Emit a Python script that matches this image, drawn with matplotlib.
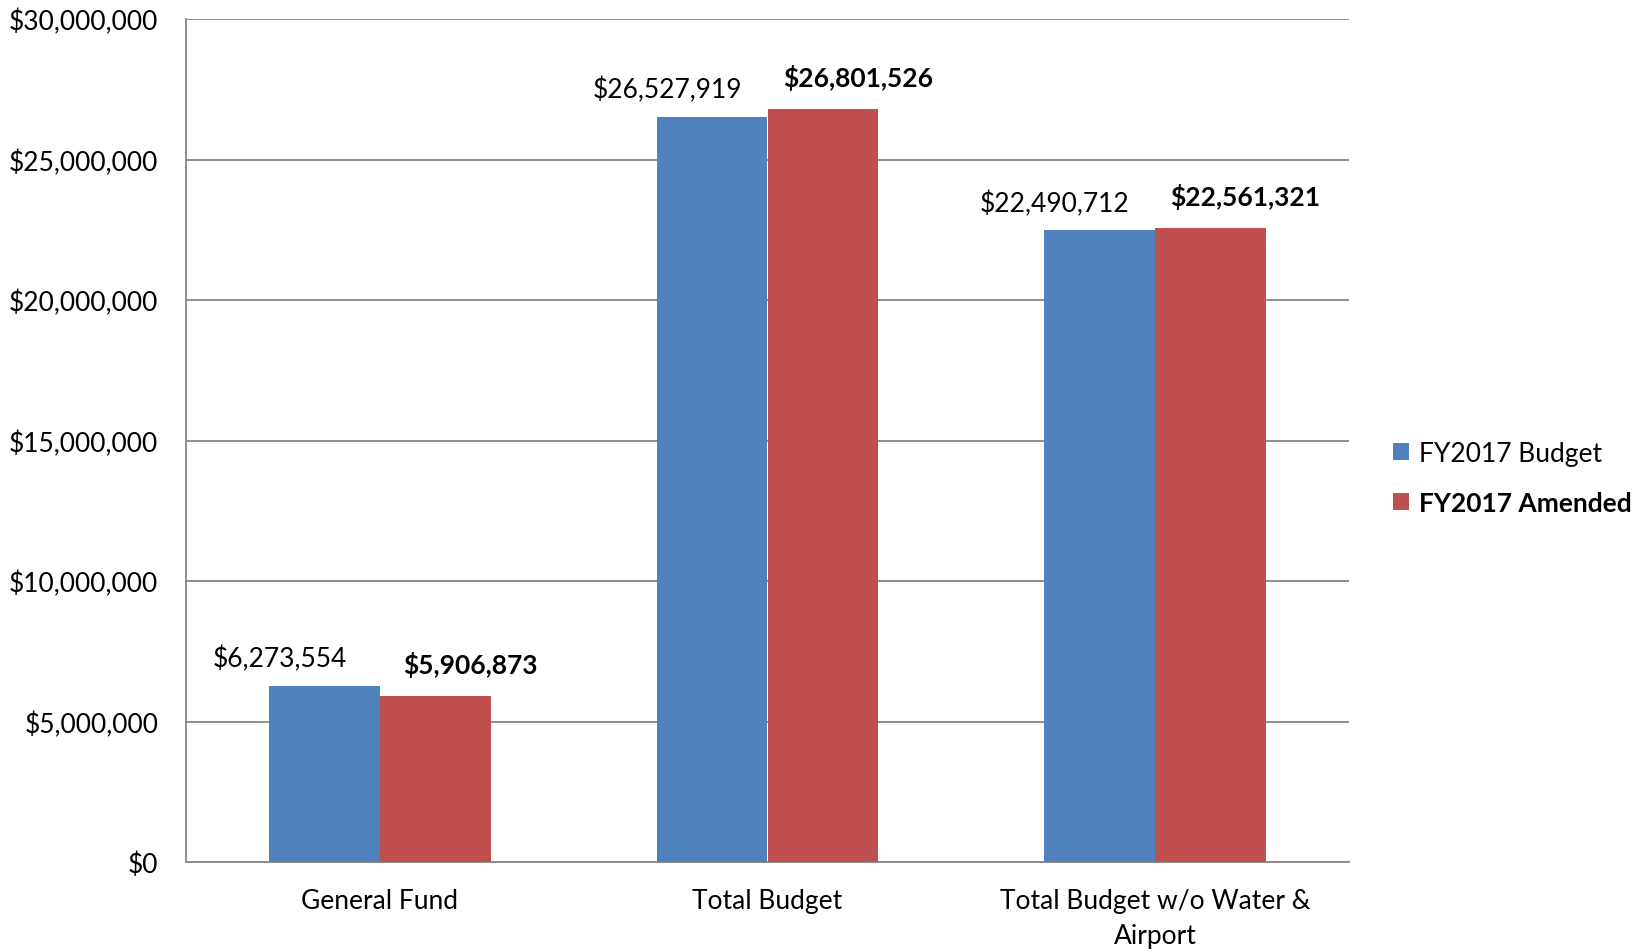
import matplotlib.pyplot as plt
import numpy as np

# budget comparison data
categories = ['General Fund', 'Total Budget', 'Total Budget w/o Water &\nAirport']
budget = [6273554, 26527919, 22490712]
amended = [5906873, 26801526, 22561321]
series_names = ['FY2017 Budget', 'FY2017 Amended']

plt.rcParams['font.family'] = ['Lato', 'DejaVu Sans']

fig = plt.figure(figsize=(16.45, 9.53), dpi=100)
ax = fig.add_axes([186 / 1645, 1 - 863 / 953, 1163 / 1645, 843 / 953])

x = np.arange(len(categories))
w = 0.2855
b1 = ax.bar(x - w / 2, budget, w, color='#4F81BD', label=series_names[0], zorder=3)
b2 = ax.bar(x + w / 2, amended, w, color='#C0504D', label=series_names[1], zorder=3)

ax.set_xlim(-0.5, 2.5)
ax.set_ylim(0, 30000000)
ax.set_yticks(np.arange(0, 30000001, 5000000))
ax.yaxis.set_major_formatter(plt.FuncFormatter(lambda v, p: '${:,.0f}'.format(v)))
ax.set_xticks(x)
ax.set_xticklabels(categories, linespacing=1.5)
ax.tick_params(axis='both', length=0, labelsize=19, colors='black')
ax.tick_params(axis='y', pad=20)
ax.tick_params(axis='x', pad=19)

ax.grid(axis='y', color='#868686', linewidth=1.3, zorder=0)
for s in ['top', 'right']:
    ax.spines[s].set_visible(False)
for s in ['left', 'bottom']:
    ax.spines[s].set_color('#868686')
    ax.spines[s].set_linewidth(1.3)

# value labels: plain over the budget bars, bold over the amended bars
for rect, v in zip(b1, budget):
    ax.annotate('${:,.0f}'.format(v), (rect.get_x() + rect.get_width() / 2, v),
                xytext=(-45, 27), textcoords='offset pixels',
                ha='center', va='center', fontsize=19)
for rect, v in zip(b2, amended):
    ax.annotate('${:,.0f}'.format(v), (rect.get_x() + rect.get_width() / 2, v),
                xytext=(35, 32), textcoords='offset pixels',
                ha='center', va='center', fontsize=19, fontweight='bold')

leg = fig.legend(handles=[b1, b2], loc='center left', bbox_to_anchor=(1393 / 1645, 1 - 479 / 953),
                 frameon=False, fontsize=19, handlelength=0.6, handleheight=0.6,
                 handletextpad=0.4, labelspacing=0.95, borderpad=0, borderaxespad=0)
leg.get_texts()[1].set_fontweight('bold')

fig.savefig('out.png', dpi=100)
